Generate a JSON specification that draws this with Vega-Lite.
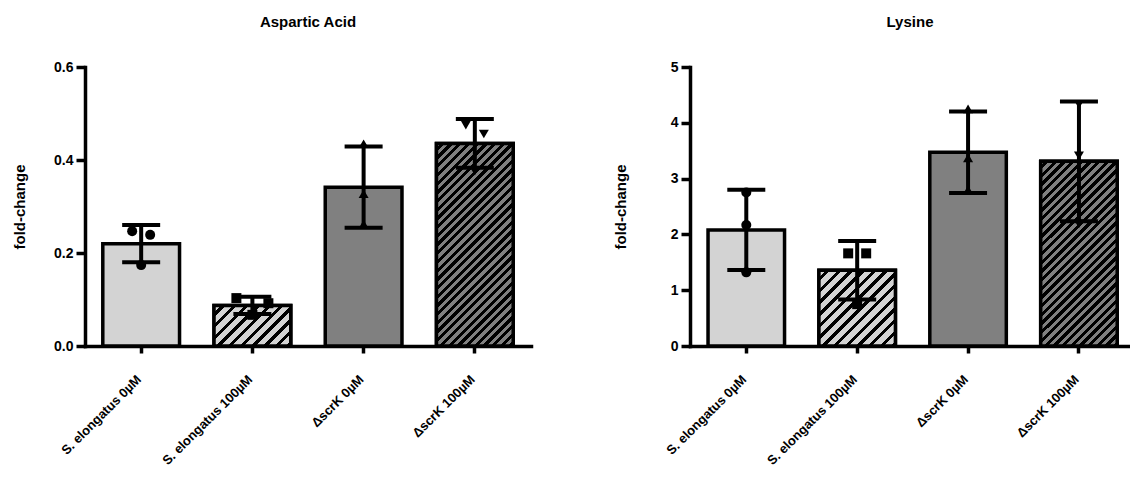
{
  "$schema": "https://vega.github.io/schema/vega-lite/v6.json",
  "padding": {"left": 12, "top": 15, "right": 0, "bottom": 0},
  "params": [
    {"name": "lightStops", "value": [
      {"offset":0,"color":"#d3d3d3"},{"offset":0.031,"color":"#d3d3d3"},{"offset":0.031,"color":"#000"},{"offset":0.05,"color":"#000"},
      {"offset":0.05,"color":"#d3d3d3"},{"offset":0.081,"color":"#d3d3d3"},{"offset":0.081,"color":"#000"},{"offset":0.1,"color":"#000"},
      {"offset":0.1,"color":"#d3d3d3"},{"offset":0.131,"color":"#d3d3d3"},{"offset":0.131,"color":"#000"},{"offset":0.15,"color":"#000"},
      {"offset":0.15,"color":"#d3d3d3"},{"offset":0.181,"color":"#d3d3d3"},{"offset":0.181,"color":"#000"},{"offset":0.2,"color":"#000"},
      {"offset":0.2,"color":"#d3d3d3"},{"offset":0.231,"color":"#d3d3d3"},{"offset":0.231,"color":"#000"},{"offset":0.25,"color":"#000"},
      {"offset":0.25,"color":"#d3d3d3"},{"offset":0.281,"color":"#d3d3d3"},{"offset":0.281,"color":"#000"},{"offset":0.3,"color":"#000"},
      {"offset":0.3,"color":"#d3d3d3"},{"offset":0.331,"color":"#d3d3d3"},{"offset":0.331,"color":"#000"},{"offset":0.35,"color":"#000"},
      {"offset":0.35,"color":"#d3d3d3"},{"offset":0.381,"color":"#d3d3d3"},{"offset":0.381,"color":"#000"},{"offset":0.4,"color":"#000"},
      {"offset":0.4,"color":"#d3d3d3"},{"offset":0.431,"color":"#d3d3d3"},{"offset":0.431,"color":"#000"},{"offset":0.45,"color":"#000"},
      {"offset":0.45,"color":"#d3d3d3"},{"offset":0.481,"color":"#d3d3d3"},{"offset":0.481,"color":"#000"},{"offset":0.5,"color":"#000"},
      {"offset":0.5,"color":"#d3d3d3"},{"offset":0.531,"color":"#d3d3d3"},{"offset":0.531,"color":"#000"},{"offset":0.55,"color":"#000"},
      {"offset":0.55,"color":"#d3d3d3"},{"offset":0.581,"color":"#d3d3d3"},{"offset":0.581,"color":"#000"},{"offset":0.6,"color":"#000"},
      {"offset":0.6,"color":"#d3d3d3"},{"offset":0.631,"color":"#d3d3d3"},{"offset":0.631,"color":"#000"},{"offset":0.65,"color":"#000"},
      {"offset":0.65,"color":"#d3d3d3"},{"offset":0.681,"color":"#d3d3d3"},{"offset":0.681,"color":"#000"},{"offset":0.7,"color":"#000"},
      {"offset":0.7,"color":"#d3d3d3"},{"offset":1,"color":"#d3d3d3"}
    ]},
    {"name": "darkStops", "value": [
      {"offset":0,"color":"#808080"},{"offset":0.0125,"color":"#808080"},{"offset":0.0125,"color":"#000"},{"offset":0.025,"color":"#000"},
      {"offset":0.025,"color":"#808080"},{"offset":0.0375,"color":"#808080"},{"offset":0.0375,"color":"#000"},{"offset":0.05,"color":"#000"},
      {"offset":0.05,"color":"#808080"},{"offset":0.0625,"color":"#808080"},{"offset":0.0625,"color":"#000"},{"offset":0.075,"color":"#000"},
      {"offset":0.075,"color":"#808080"},{"offset":0.0875,"color":"#808080"},{"offset":0.0875,"color":"#000"},{"offset":0.1,"color":"#000"},
      {"offset":0.1,"color":"#808080"},{"offset":0.1125,"color":"#808080"},{"offset":0.1125,"color":"#000"},{"offset":0.125,"color":"#000"},
      {"offset":0.125,"color":"#808080"},{"offset":0.1375,"color":"#808080"},{"offset":0.1375,"color":"#000"},{"offset":0.15,"color":"#000"},
      {"offset":0.15,"color":"#808080"},{"offset":0.1625,"color":"#808080"},{"offset":0.1625,"color":"#000"},{"offset":0.175,"color":"#000"},
      {"offset":0.175,"color":"#808080"},{"offset":0.1875,"color":"#808080"},{"offset":0.1875,"color":"#000"},{"offset":0.2,"color":"#000"},
      {"offset":0.2,"color":"#808080"},{"offset":0.2125,"color":"#808080"},{"offset":0.2125,"color":"#000"},{"offset":0.225,"color":"#000"},
      {"offset":0.225,"color":"#808080"},{"offset":0.2375,"color":"#808080"},{"offset":0.2375,"color":"#000"},{"offset":0.25,"color":"#000"},
      {"offset":0.25,"color":"#808080"},{"offset":0.2625,"color":"#808080"},{"offset":0.2625,"color":"#000"},{"offset":0.275,"color":"#000"},
      {"offset":0.275,"color":"#808080"},{"offset":0.2875,"color":"#808080"},{"offset":0.2875,"color":"#000"},{"offset":0.3,"color":"#000"},
      {"offset":0.3,"color":"#808080"},{"offset":0.3125,"color":"#808080"},{"offset":0.3125,"color":"#000"},{"offset":0.325,"color":"#000"},
      {"offset":0.325,"color":"#808080"},{"offset":0.3375,"color":"#808080"},{"offset":0.3375,"color":"#000"},{"offset":0.35,"color":"#000"},
      {"offset":0.35,"color":"#808080"},{"offset":0.3625,"color":"#808080"},{"offset":0.3625,"color":"#000"},{"offset":0.375,"color":"#000"},
      {"offset":0.375,"color":"#808080"},{"offset":0.3875,"color":"#808080"},{"offset":0.3875,"color":"#000"},{"offset":0.4,"color":"#000"},
      {"offset":0.4,"color":"#808080"},{"offset":0.4125,"color":"#808080"},{"offset":0.4125,"color":"#000"},{"offset":0.425,"color":"#000"},
      {"offset":0.425,"color":"#808080"},{"offset":0.4375,"color":"#808080"},{"offset":0.4375,"color":"#000"},{"offset":0.45,"color":"#000"},
      {"offset":0.45,"color":"#808080"},{"offset":0.4625,"color":"#808080"},{"offset":0.4625,"color":"#000"},{"offset":0.475,"color":"#000"},
      {"offset":0.475,"color":"#808080"},{"offset":0.4875,"color":"#808080"},{"offset":0.4875,"color":"#000"},{"offset":0.5,"color":"#000"},
      {"offset":0.5,"color":"#808080"},{"offset":0.5125,"color":"#808080"},{"offset":0.5125,"color":"#000"},{"offset":0.525,"color":"#000"},
      {"offset":0.525,"color":"#808080"},{"offset":0.5375,"color":"#808080"},{"offset":0.5375,"color":"#000"},{"offset":0.55,"color":"#000"},
      {"offset":0.55,"color":"#808080"},{"offset":0.5625,"color":"#808080"},{"offset":0.5625,"color":"#000"},{"offset":0.575,"color":"#000"},
      {"offset":0.575,"color":"#808080"},{"offset":0.5875,"color":"#808080"},{"offset":0.5875,"color":"#000"},{"offset":0.6,"color":"#000"},
      {"offset":0.6,"color":"#808080"},{"offset":0.6125,"color":"#808080"},{"offset":0.6125,"color":"#000"},{"offset":0.625,"color":"#000"},
      {"offset":0.625,"color":"#808080"},{"offset":0.6375,"color":"#808080"},{"offset":0.6375,"color":"#000"},{"offset":0.65,"color":"#000"},
      {"offset":0.65,"color":"#808080"},{"offset":0.6625,"color":"#808080"},{"offset":0.6625,"color":"#000"},{"offset":0.675,"color":"#000"},
      {"offset":0.675,"color":"#808080"},{"offset":0.6875,"color":"#808080"},{"offset":0.6875,"color":"#000"},{"offset":0.7,"color":"#000"},
      {"offset":0.7,"color":"#808080"},{"offset":0.7125,"color":"#808080"},{"offset":0.7125,"color":"#000"},{"offset":0.725,"color":"#000"},
      {"offset":0.725,"color":"#808080"},{"offset":0.7375,"color":"#808080"},{"offset":0.7375,"color":"#000"},{"offset":0.75,"color":"#000"},
      {"offset":0.75,"color":"#808080"},{"offset":0.7625,"color":"#808080"},{"offset":0.7625,"color":"#000"},{"offset":0.775,"color":"#000"},
      {"offset":0.775,"color":"#808080"},{"offset":0.7875,"color":"#808080"},{"offset":0.7875,"color":"#000"},{"offset":0.8,"color":"#000"},
      {"offset":0.8,"color":"#808080"},{"offset":0.8125,"color":"#808080"},{"offset":0.8125,"color":"#000"},{"offset":0.825,"color":"#000"},
      {"offset":0.825,"color":"#808080"},{"offset":1,"color":"#808080"}
    ]}
  ],
  "datasets": {
    "reps": [
      {"acid": "Aspartic Acid", "group": "S. elongatus 0µM", "value": 0.247, "col": -1},
      {"acid": "Aspartic Acid", "group": "S. elongatus 0µM", "value": 0.239, "col": 1},
      {"acid": "Aspartic Acid", "group": "S. elongatus 0µM", "value": 0.174, "col": 0},
      {"acid": "Aspartic Acid", "group": "S. elongatus 100µM", "value": 0.103, "col": -2},
      {"acid": "Aspartic Acid", "group": "S. elongatus 100µM", "value": 0.092, "col": 2},
      {"acid": "Aspartic Acid", "group": "S. elongatus 100µM", "value": 0.067, "col": 0},
      {"acid": "Aspartic Acid", "group": "ΔscrK 0µM", "value": 0.435, "col": 0},
      {"acid": "Aspartic Acid", "group": "ΔscrK 0µM", "value": 0.3275, "col": 0},
      {"acid": "Aspartic Acid", "group": "ΔscrK 0µM", "value": 0.262, "col": 0},
      {"acid": "Aspartic Acid", "group": "ΔscrK 100µM", "value": 0.475, "col": -1},
      {"acid": "Aspartic Acid", "group": "ΔscrK 100µM", "value": 0.456, "col": 1},
      {"acid": "Aspartic Acid", "group": "ΔscrK 100µM", "value": 0.376, "col": 0},
      {"acid": "Lysine", "group": "S. elongatus 0µM", "value": 2.75, "col": 0},
      {"acid": "Lysine", "group": "S. elongatus 0µM", "value": 2.17, "col": 0},
      {"acid": "Lysine", "group": "S. elongatus 0µM", "value": 1.32, "col": 0},
      {"acid": "Lysine", "group": "S. elongatus 100µM", "value": 1.66, "col": -1},
      {"acid": "Lysine", "group": "S. elongatus 100µM", "value": 1.66, "col": 1},
      {"acid": "Lysine", "group": "S. elongatus 100µM", "value": 0.75, "col": 0},
      {"acid": "Lysine", "group": "ΔscrK 0µM", "value": 4.25, "col": 0},
      {"acid": "Lysine", "group": "ΔscrK 0µM", "value": 3.37, "col": 0},
      {"acid": "Lysine", "group": "ΔscrK 0µM", "value": 2.8, "col": 0},
      {"acid": "Lysine", "group": "ΔscrK 100µM", "value": 4.33, "col": 0},
      {"acid": "Lysine", "group": "ΔscrK 100µM", "value": 3.41, "col": 0},
      {"acid": "Lysine", "group": "ΔscrK 100µM", "value": 2.19, "col": 0}
    ]
  },
  "spacing": 82,
  "hconcat": [
    {
      "title": "Aspartic Acid",
      "width": 446,
      "height": 279,
      "data": {"name": "reps"},
      "transform": [{"filter": "datum.acid === 'Aspartic Acid'"}],
      "encoding": {
        "x": {
          "field": "group", "type": "nominal", "title": null,
          "scale": {"domain": ["S. elongatus 0µM", "S. elongatus 100µM", "ΔscrK 0µM", "ΔscrK 100µM"], "paddingInner": 0.31, "paddingOuter": 0.16}
        },
        "shape": {
          "field": "group", "type": "nominal", "legend": null,
          "scale": {"domain": ["S. elongatus 0µM", "S. elongatus 100µM", "ΔscrK 0µM", "ΔscrK 100µM"], "range": ["circle", "square", "triangle-up", "triangle-down"]}
        }
      },
      "layer": [
        {
          "mark": {"type": "bar", "stroke": "black", "strokeWidth": 3.5},
          "encoding": {
            "shape": null,
            "y": {
              "aggregate": "mean", "field": "value", "type": "quantitative", "title": "fold-change",
              "scale": {"domain": [0, 0.6], "nice": false},
              "axis": {"values": [0, 0.2, 0.4, 0.6], "format": ".1f", "titlePadding": 26}
            },
            "fill": {
              "field": "group", "type": "nominal", "legend": null,
              "scale": {"domain": ["S. elongatus 0µM", "S. elongatus 100µM", "ΔscrK 0µM", "ΔscrK 100µM"], "range": ["#d3d3d3", "#d3d3d3", "#808080", "#808080"]}
            }
          }
        },
        {
          "transform": [{"filter": "datum.group === 'S. elongatus 100µM'"}],
          "mark": {"type": "bar", "stroke": "black", "strokeWidth": 3.5,
                   "fill": {"expr": "{gradient: 'linear', x1: 0, y1: 0, x2: 2.3825, y2: 1.2605, stops: lightStops}"}},
          "encoding": {"shape": null, "y": {"aggregate": "mean", "field": "value", "type": "quantitative", "title": "fold-change"}}
        },
        {
          "transform": [{"filter": "datum.group === 'ΔscrK 100µM'"}],
          "mark": {"type": "bar", "stroke": "black", "strokeWidth": 3.5,
                   "fill": {"expr": "{gradient: 'linear', x1: 0, y1: 0, x2: 0.569, y2: 1.5022, stops: darkStops}"}},
          "encoding": {"shape": null, "y": {"aggregate": "mean", "field": "value", "type": "quantitative", "title": "fold-change"}}
        },
        {
          "mark": {"type": "errorbar", "extent": "stdev", "ticks": true, "size": 38, "thickness": 4, "color": "black", "opacity": 1},
          "encoding": {"shape": null, "y": {"field": "value", "type": "quantitative", "title": "fold-change"}}
        },
        {
          "transform": [{"filter": "datum.col === 0"}],
          "mark": {"type": "point", "filled": true, "opacity": 1, "size": 100, "color": "black"},
          "encoding": {"y": {"field": "value", "type": "quantitative", "title": "fold-change"}}
        },
        {
          "transform": [{"filter": "datum.col === -1"}],
          "mark": {"type": "point", "filled": true, "opacity": 1, "size": 100, "color": "black", "xOffset": -9},
          "encoding": {"y": {"field": "value", "type": "quantitative", "title": "fold-change"}}
        },
        {
          "transform": [{"filter": "datum.col === 1"}],
          "mark": {"type": "point", "filled": true, "opacity": 1, "size": 100, "color": "black", "xOffset": 9},
          "encoding": {"y": {"field": "value", "type": "quantitative", "title": "fold-change"}}
        },
        {
          "transform": [{"filter": "datum.col === -2"}],
          "mark": {"type": "point", "filled": true, "opacity": 1, "size": 100, "color": "black", "xOffset": -16},
          "encoding": {"y": {"field": "value", "type": "quantitative", "title": "fold-change"}}
        },
        {
          "transform": [{"filter": "datum.col === 2"}],
          "mark": {"type": "point", "filled": true, "opacity": 1, "size": 100, "color": "black", "xOffset": 16},
          "encoding": {"y": {"field": "value", "type": "quantitative", "title": "fold-change"}}
        }
      ]
    },
    {
      "title": "Lysine",
      "width": 440,
      "height": 279,
      "data": {"name": "reps"},
      "transform": [{"filter": "datum.acid === 'Lysine'"}],
      "encoding": {
        "x": {
          "field": "group", "type": "nominal", "title": null,
          "scale": {"domain": ["S. elongatus 0µM", "S. elongatus 100µM", "ΔscrK 0µM", "ΔscrK 100µM"], "paddingInner": 0.31, "paddingOuter": 0.139, "align": 0.585}
        },
        "shape": {
          "field": "group", "type": "nominal", "legend": null,
          "scale": {"domain": ["S. elongatus 0µM", "S. elongatus 100µM", "ΔscrK 0µM", "ΔscrK 100µM"], "range": ["circle", "square", "triangle-up", "triangle-down"]}
        }
      },
      "layer": [
        {
          "mark": {"type": "bar", "stroke": "black", "strokeWidth": 3.5},
          "encoding": {
            "shape": null,
            "y": {
              "aggregate": "mean", "field": "value", "type": "quantitative", "title": "fold-change",
              "scale": {"domain": [0, 5], "nice": false},
              "axis": {"values": [0, 1, 2, 3, 4, 5], "format": "d", "titlePadding": 42}
            },
            "fill": {
              "field": "group", "type": "nominal", "legend": null,
              "scale": {"domain": ["S. elongatus 0µM", "S. elongatus 100µM", "ΔscrK 0µM", "ΔscrK 100µM"], "range": ["#d3d3d3", "#d3d3d3", "#808080", "#808080"]}
            }
          }
        },
        {
          "transform": [{"filter": "datum.group === 'S. elongatus 100µM'"}],
          "mark": {"type": "bar", "stroke": "black", "strokeWidth": 3.5,
                   "fill": {"expr": "{gradient: 'linear', x1: 0, y1: 0, x2: 1.5455, y2: 1.5294, stops: lightStops}"}},
          "encoding": {"shape": null, "y": {"aggregate": "mean", "field": "value", "type": "quantitative", "title": "fold-change"}}
        },
        {
          "transform": [{"filter": "datum.group === 'ΔscrK 100µM'"}],
          "mark": {"type": "bar", "stroke": "black", "strokeWidth": 3.5,
                   "fill": {"expr": "{gradient: 'linear', x1: 0, y1: 0, x2: 0.6661, y2: 1.6083, stops: darkStops}"}},
          "encoding": {"shape": null, "y": {"aggregate": "mean", "field": "value", "type": "quantitative", "title": "fold-change"}}
        },
        {
          "mark": {"type": "errorbar", "extent": "stdev", "ticks": true, "size": 38, "thickness": 4, "color": "black", "opacity": 1},
          "encoding": {"shape": null, "y": {"field": "value", "type": "quantitative", "title": "fold-change"}}
        },
        {
          "transform": [{"filter": "datum.col === 0"}],
          "mark": {"type": "point", "filled": true, "opacity": 1, "size": 100, "color": "black"},
          "encoding": {"y": {"field": "value", "type": "quantitative", "title": "fold-change"}}
        },
        {
          "transform": [{"filter": "datum.col === -1"}],
          "mark": {"type": "point", "filled": true, "opacity": 1, "size": 100, "color": "black", "xOffset": -9},
          "encoding": {"y": {"field": "value", "type": "quantitative", "title": "fold-change"}}
        },
        {
          "transform": [{"filter": "datum.col === 1"}],
          "mark": {"type": "point", "filled": true, "opacity": 1, "size": 100, "color": "black", "xOffset": 9},
          "encoding": {"y": {"field": "value", "type": "quantitative", "title": "fold-change"}}
        }
      ]
    }
  ],
  "config": {
    "view": {"stroke": null},
    "font": "Liberation Sans",
    "title": {"font": "Liberation Sans", "fontSize": 15, "fontWeight": "bold", "color": "black", "anchor": "middle", "offset": 30, "baseline": "alphabetic"},
    "axis": {
      "grid": false,
      "domainColor": "black", "domainWidth": 3.5, "domainCap": "square",
      "tickColor": "black", "tickWidth": 3.5,
      "labelFont": "Liberation Sans", "labelFontWeight": "bold", "labelColor": "black",
      "titleFont": "Liberation Sans", "titleFontWeight": "bold", "titleColor": "black", "titleFontSize": 15
    },
    "axisY": {"tickSize": 9, "labelPadding": 3, "labelFontSize": 14},
    "axisX": {"tickSize": 7, "labelAngle": -45, "labelAlign": "right", "labelBaseline": "middle", "labelPadding": 24, "labelOffset": -2, "labelFontSize": 13}
  }
}
